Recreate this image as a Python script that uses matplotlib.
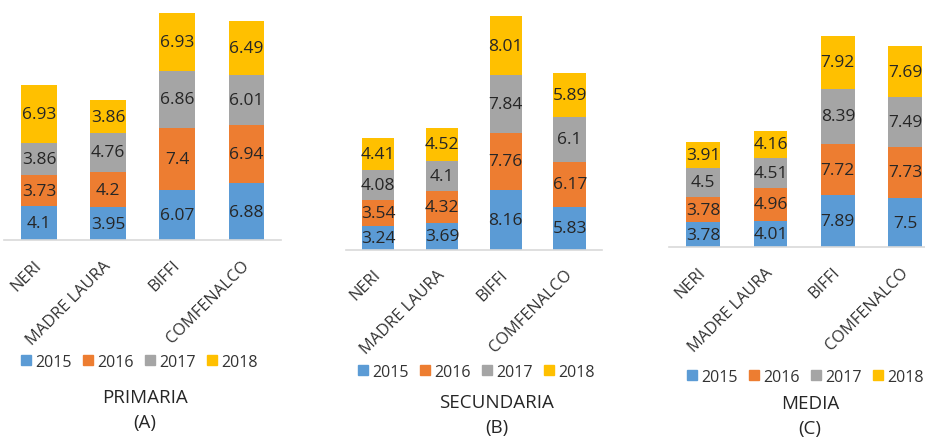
import matplotlib.pyplot as plt
from matplotlib.patches import Patch

plt.rcParams['font.family'] = ['Open Sans', 'DejaVu Sans']

# -------------------------------
# Data
# -------------------------------
schools = ["NERI", "MADRE LAURA", "BIFFI", "COMFENALCO"]
years = ["2015", "2016", "2017", "2018"]
colors = ["#5B9BD5", "#ED7D31", "#A5A5A5", "#FFC000"]

primaria_2015 = [4.1, 3.95, 6.07, 6.88]
primaria_2016 = [3.73, 4.2, 7.4, 6.94]
primaria_2017 = [3.86, 4.76, 6.86, 6.01]
primaria_2018 = [6.93, 3.86, 6.93, 6.49]

secundaria_2015 = [3.24, 3.69, 8.16, 5.83]
secundaria_2016 = [3.54, 4.32, 7.76, 6.17]
secundaria_2017 = [4.08, 4.1, 7.84, 6.1]
secundaria_2018 = [4.41, 4.52, 8.01, 5.89]

media_2015 = [3.78, 4.01, 7.89, 7.5]
media_2016 = [3.78, 4.96, 7.72, 7.73]
media_2017 = [4.5, 4.51, 8.39, 7.49]
media_2018 = [3.91, 4.16, 7.92, 7.69]

titles = ["PRIMARIA", "SECUNDARIA", "MEDIA"]
letters = ["(A)", "(B)", "(C)"]

panels = [
    [primaria_2015, primaria_2016, primaria_2017, primaria_2018],
    [secundaria_2015, secundaria_2016, secundaria_2017, secundaria_2018],
    [media_2015, media_2016, media_2017, media_2018],
]

# -------------------------------
# Layout (pixels on a 925x439 canvas)
# x0, x1, baseline, top, bar width, legend x, legend y, title x, title y
# -------------------------------
W, H = 925, 439
layout = [
    (4.4, 281.1, 241.3, 14.0, 0.52, 21, 363, 145, 398),
    (346.0, 601.7, 250.7, 17.3, 0.51, 358, 373, 497, 403),
    (669.3, 939.0, 248.3, 37.3, 0.50, 687, 378, 810, 404),
]

fig = plt.figure(figsize=(W / 100, H / 100), dpi=100)

for series, title, letter, (x0, x1, base, top, bw, lx, ly, tx, ty) in zip(
        panels, titles, letters, layout):
    ax = fig.add_axes([x0 / W, (H - base) / H, (x1 - x0) / W, (base - top) / H])

    bottom = [0.0] * len(schools)
    for vals, col in zip(series, colors):
        bars = ax.bar(range(len(schools)), vals, bw, bottom=bottom, color=col)
        ax.bar_label(bars, labels=[f"{v:g}" for v in vals], label_type='center',
                     fontsize=12.5, color='#262626')
        bottom = [b + v for b, v in zip(bottom, vals)]

    ax.set_xlim(-0.5, len(schools) - 0.5)
    ax.set_ylim(0, max(bottom))
    ax.set_xticks(range(len(schools)))
    ax.set_xticklabels(schools, rotation=45, ha='right', va='center',
                       rotation_mode='anchor', fontsize=11.8, color='#333333')
    ax.tick_params(axis='x', length=0, pad=16)
    ax.set_yticks([])
    for s in ['top', 'left', 'right']:
        ax.spines[s].set_visible(False)
    ax.spines['bottom'].set_color('#D9D9D9')
    ax.spines['bottom'].set_linewidth(1.2)
    ax.patch.set_alpha(0)

    handles = [Patch(color=c, label=y) for c, y in zip(colors, years)]
    ax.legend(handles=handles, loc='center left', ncol=4, frameon=False,
              bbox_to_anchor=(lx / W, 1 - ly / H), bbox_transform=fig.transFigure,
              fontsize=11.5, handlelength=0.6, handleheight=0.6,
              handletextpad=0.3, columnspacing=0.7, borderpad=0, borderaxespad=0,
              labelcolor='#333333')

    fig.text(tx / W, 1 - ty / H, title, ha='center', va='center',
             fontsize=13.5, color='#262626')
    fig.text(tx / W, 1 - (ty + 25) / H, letter, ha='center', va='center',
             fontsize=13.5, color='#262626')

plt.savefig("out.png", dpi=100)
